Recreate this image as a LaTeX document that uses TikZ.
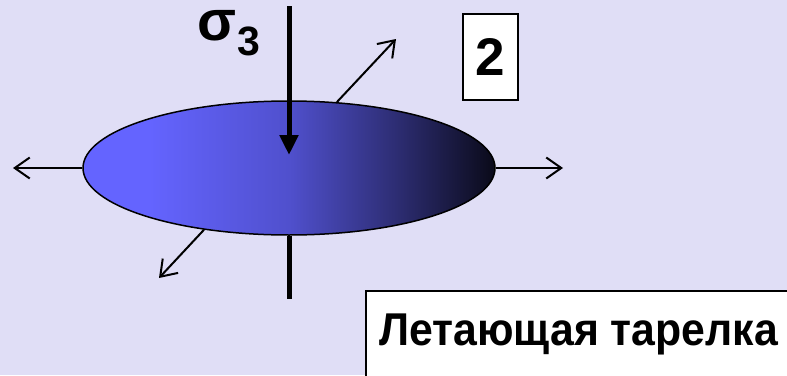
\documentclass[tikz,border=0pt]{standalone}
\usepackage{fontspec}
\setmainfont{Liberation Sans}
\newfontfamily\narrowfont[FakeStretch=0.93]{Liberation Sans}
\usetikzlibrary{arrows.meta,shapes.geometric}

\definecolor{bglav}{RGB}{224,222,246}
\definecolor{discleft}{RGB}{100,100,255}
\definecolor{discmid}{RGB}{80,80,205}
\definecolor{discdeep}{RGB}{45,45,115}
\definecolor{discright}{RGB}{10,10,25}

\pgfdeclarehorizontalshading{discshade}{100bp}{%
  color(0bp)=(discleft); color(33bp)=(discleft); color(50bp)=(discmid);
  color(63bp)=(discdeep); color(75bp)=(discright); color(100bp)=(discright)}

\tikzset{
  thinarrow/.style={line width=2pt, -{Straight Barb[length=15pt,width=21pt,line width=2pt]}},
  thickline/.style={line width=5pt},
  whitebox/.style={draw=black, line width=1.5pt, fill=white, inner sep=0pt}
}

\begin{document}
\begin{tikzpicture}[x=1pt,y=-1pt]
            \useasboundingbox (0,0) rectangle (787,375);
            \fill[bglav] (0,0) rectangle (787,375);

            \coordinate (Ltip) at (13,168);
            \coordinate (Rtip) at (563,168);
            \coordinate (URtip) at (396,39);
            \coordinate (LLtip) at (159,278);
            \coordinate (Stop) at (289,6);
            \coordinate (Stip) at (289,155);
            \coordinate (Send) at (289,299);

            \node[ellipse, draw=black, line width=1.5pt, inner sep=0pt,
                  minimum width=412, minimum height=134, shading=discshade]
                  (disc) at (289,168) {};

            \draw[thinarrow] (disc.west) -- (Ltip);
            \draw[thinarrow] (disc.east) -- (Rtip);
            \draw[thinarrow] (disc.54) -- (URtip);
            \draw[thinarrow] (disc.216) -- (LLtip);

            \draw[thickline, -{Triangle[length=20pt,width=18pt]}] (Stop) -- (Stip);
            \draw[thickline] (disc.south) -- (Send);

            \node[anchor=base, inner sep=0pt, text height=28pt, text depth=0pt,
                  font=\fontsize{57}{60}\selectfont\bfseries]
                  (sigma) at (217,40) {σ};
            \node[anchor=base west, inner sep=0pt, text height=28pt, text depth=0pt,
                  font=\fontsize{41}{44}\selectfont\bfseries]
                  (sub) at (237,55) {3};

            \node[whitebox, minimum width=55, minimum height=86,
                  font=\fontsize{53}{56}\selectfont\bfseries]
                  (num) at (490.5,57) {2};

            \node[whitebox, anchor=north west, minimum width=440, minimum height=100]
                  (box) at (365,290) {};
            \node[anchor=base west, inner sep=0pt,
                  font=\narrowfont\fontsize{46}{50}\selectfont\bfseries]
                  (title) at ([shift={(14,55)}]box.north west) {Летающая тарелка};
        \end{tikzpicture}
\end{document}
